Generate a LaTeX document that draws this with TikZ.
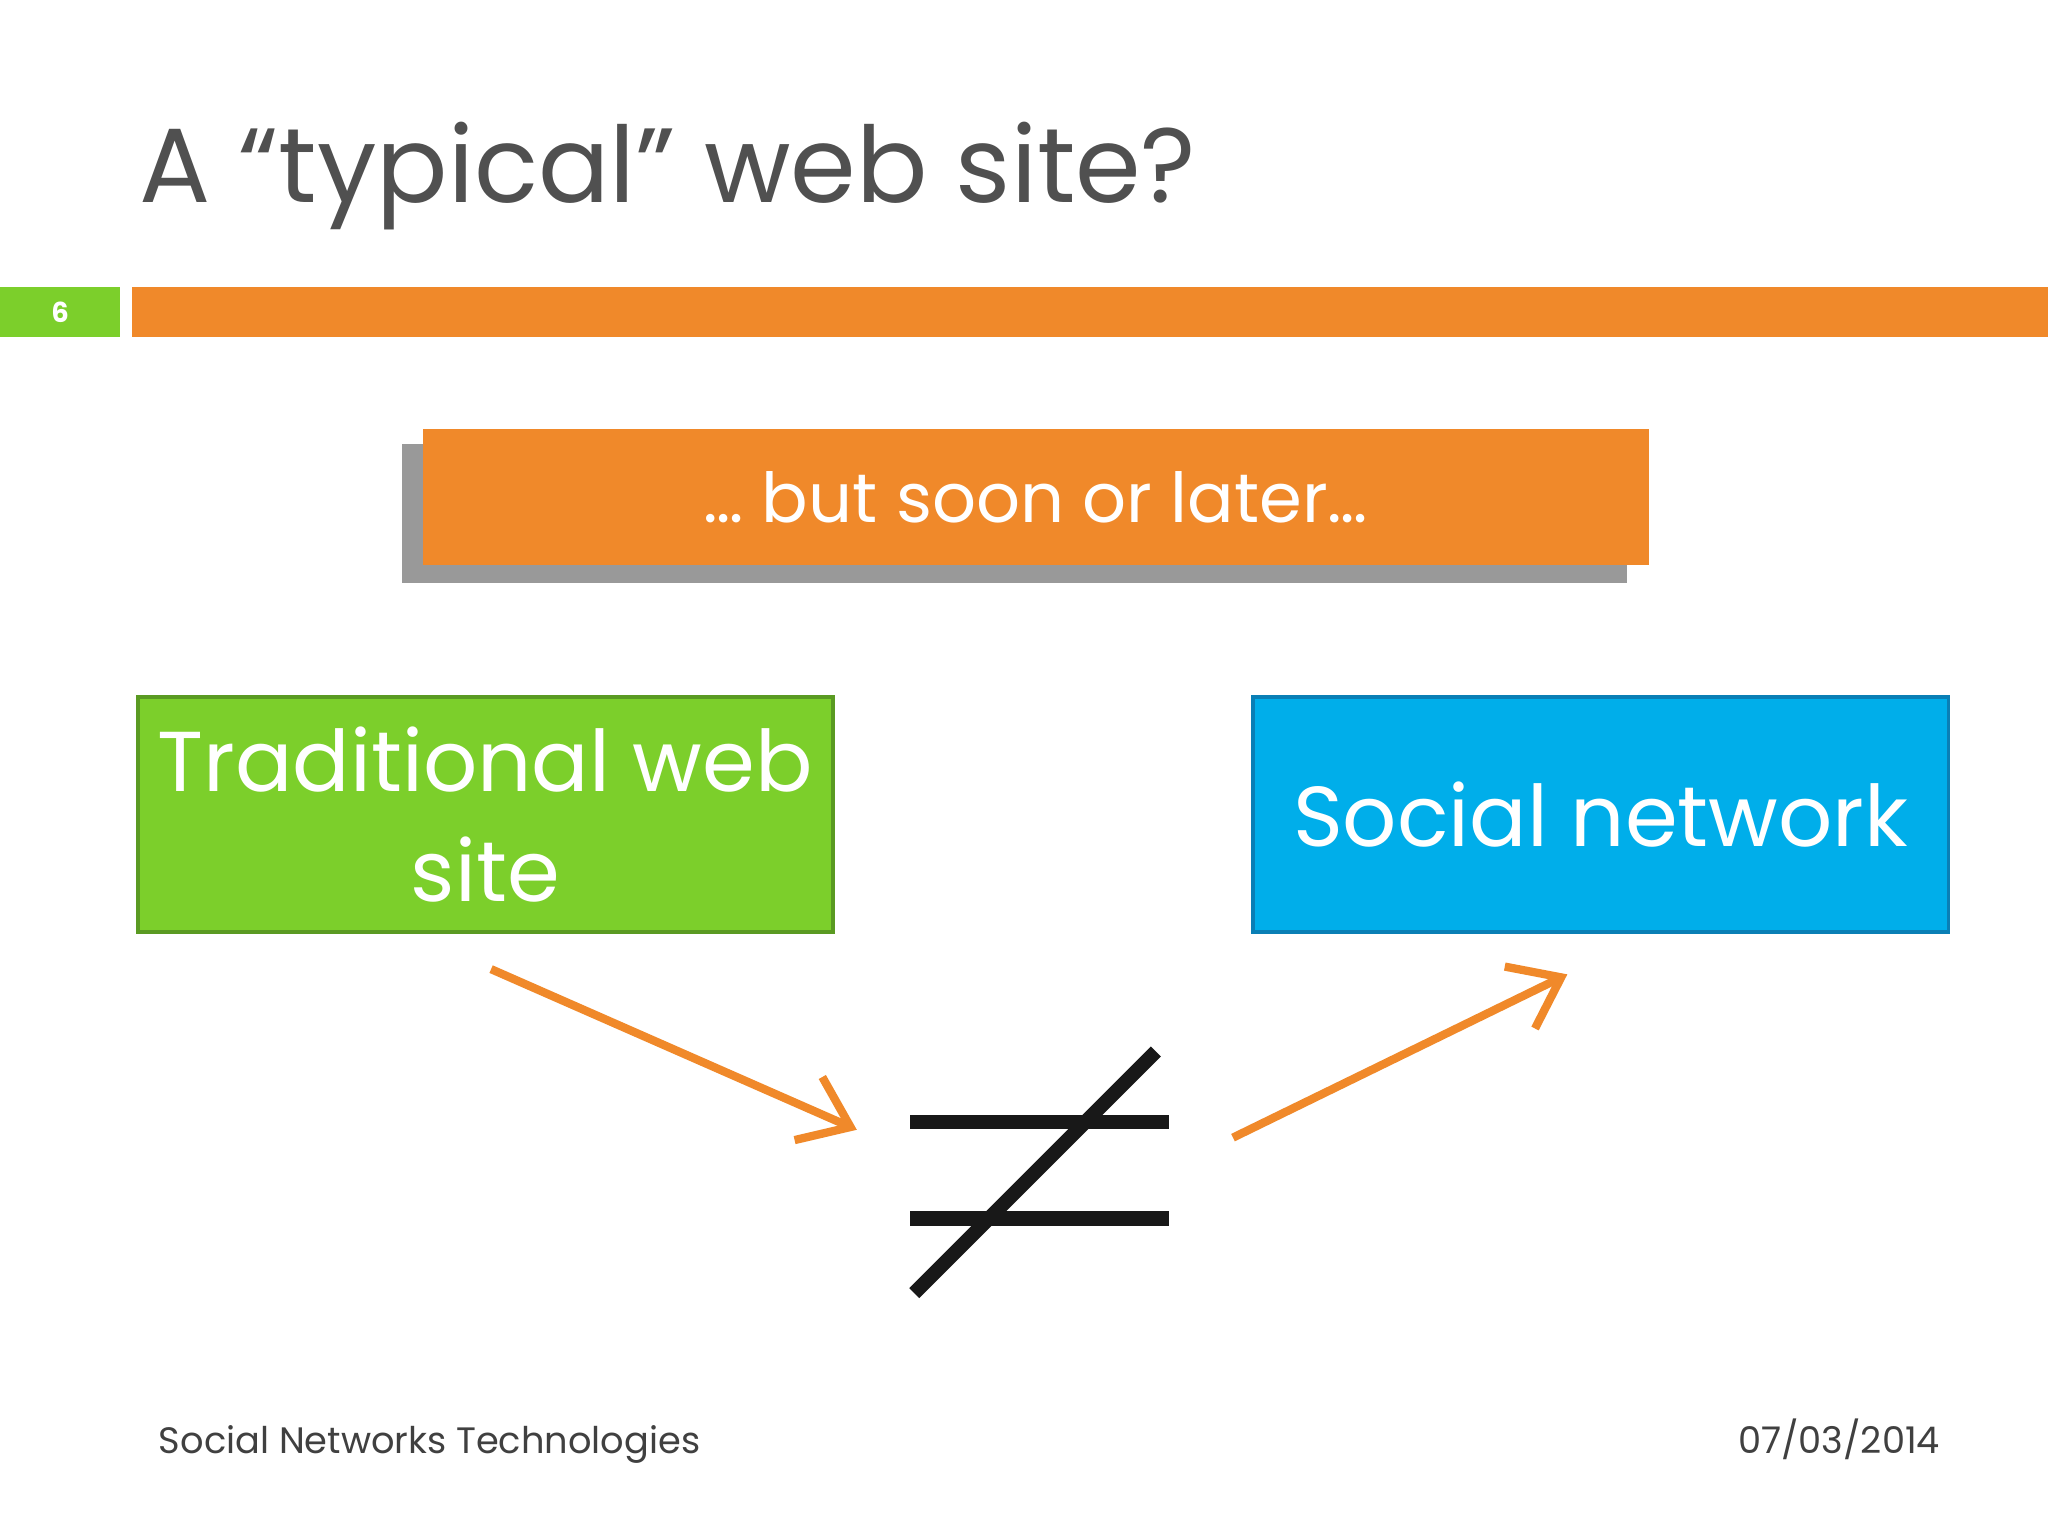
\documentclass[tikz,border=0pt]{standalone}
\usepackage{fontspec}
\setmainfont{Poppins}
\usetikzlibrary{arrows.meta}
\definecolor{orng}{HTML}{F0892A}
\definecolor{grn}{HTML}{7CCF2B}
\definecolor{grnb}{HTML}{5A9A22}
\definecolor{blu}{HTML}{00AEEA}
\definecolor{blub}{HTML}{0A7FB5}
\definecolor{ttl}{HTML}{505050}
\tikzset{
 box/.style={draw,line width=0.8pt,inner sep=0pt,anchor=north west,text=white,align=center},
 oarrow/.style={orng,line width=1.8pt,-{Straight Barb[length=10pt,width=15pt,line width=1.8pt]}},
 neq/.style={color=ttl!30!black,line width=3.1pt}
}
\begin{document}
\begin{tikzpicture}[x=0.01cm,y=-0.01cm]
\useasboundingbox (0,0) rectangle (1568,1176);
\fill[white] (0,0) rectangle (1568,1176);
\node[anchor=base west,text=ttl,font=\fontsize{23}{25}\selectfont,inner sep=0] (title) at (106,155) {A “typical” web site?};
\fill[grn] (0,220) rectangle (92,258);
\node[text=white,font=\bfseries\fontsize{6}{7}\selectfont] (num) at (46,239) {6};
\fill[orng] (101,220) rectangle (1568,258);
\fill[black!40] (308,340) rectangle (1246,446);
\node[fill=orng,anchor=north west,minimum width=9.38cm,minimum height=1.04cm,inner sep=0,text=white,font=\fontsize{15}{17}\selectfont] (soon) at (323,328) {… but soon or later…};
\node[box,draw=grnb,fill=grn,minimum width=5.32cm,minimum height=1.8cm,font=\fontsize{18.5}{24}\selectfont] (trad) at (104,532) {Traditional web\\site};
\node[box,draw=blub,fill=blu,minimum width=5.32cm,minimum height=1.8cm,font=\fontsize{18.5}{24}\selectfont] (soc) at (958,532) {Social network};
\coordinate (a1) at (376,742); \coordinate (a2) at (656,865);
\coordinate (b1) at (944,871); \coordinate (b2) at (1200,746);
\draw[oarrow] (a1) -- (a2);
\draw[oarrow] (b1) -- (b2);
\draw[neq] (697,859) -- (895,859);
\draw[neq] (697,933) -- (895,933);
\draw[neq] (885,805) -- (700,990);
\node[anchor=base west,inner sep=0,text=ttl!80!black,font=\fontsize{8}{9}\selectfont] (foot) at (121,1113) {Social Networks Technologies};
\node[anchor=base east,inner sep=0,text=ttl!80!black,font=\fontsize{8}{9}\selectfont] (date) at (1486,1113) {07/03/2014};
\end{tikzpicture}
\end{document}
